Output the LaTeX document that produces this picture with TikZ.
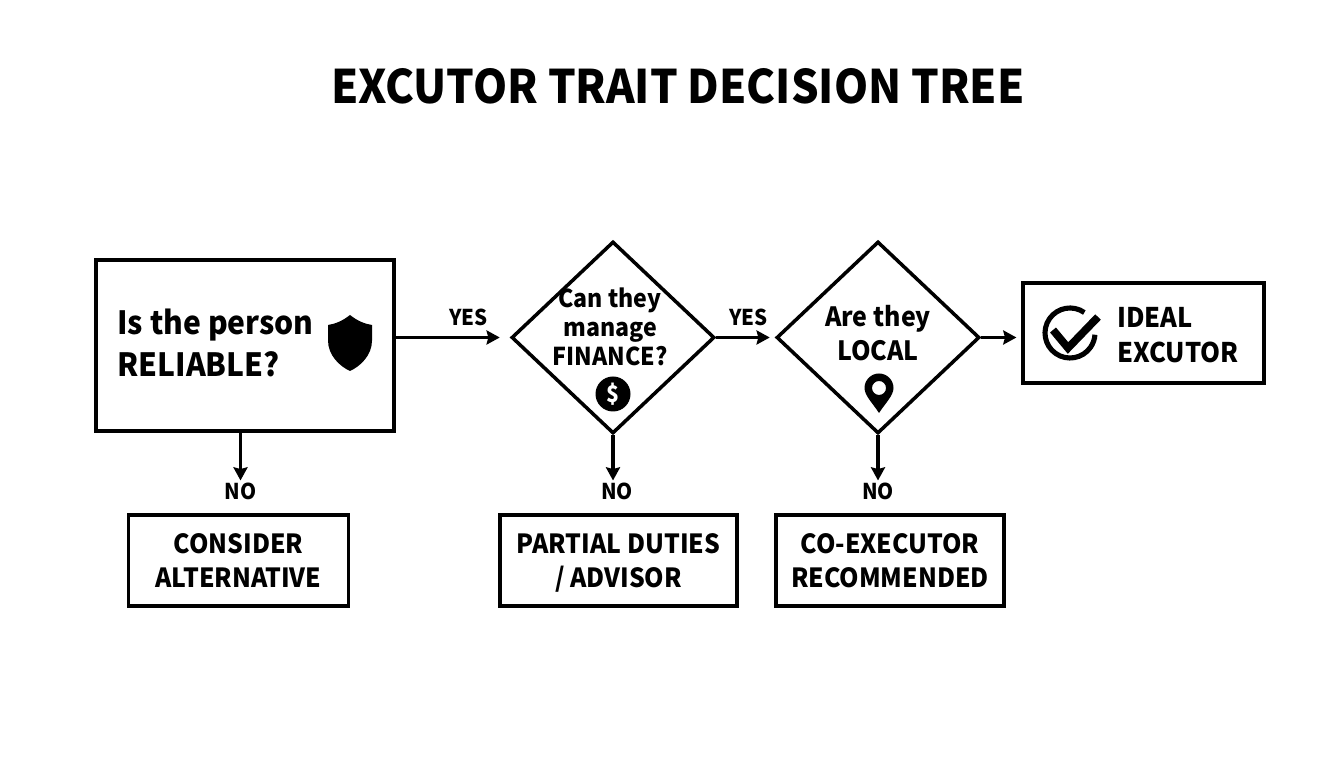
\documentclass[tikz,border=0pt]{standalone}
\usepackage{fontspec}
\setmainfont{Noto Sans CJK SC}[FakeStretch=0.94]
\usetikzlibrary{shapes.geometric,arrows.meta}

\tikzstyle{square} = [rectangle, minimum width=4.4cm, minimum height=1.82cm, align=center, line width=1.8pt, draw=black, inner sep=0pt, text depth=-2pt, font=\fontsize{15}{19}\selectfont\bfseries]
\tikzstyle{decision} = [diamond, minimum width=4.06cm, minimum height=3.84cm, line width=2pt, draw=black, inner sep=0pt]
\tikzstyle{question} = [align=center, inner sep=0pt, font=\fontsize{14}{16.5}\selectfont\bfseries]
\tikzstyle{answer} = [inner sep=1pt, font=\fontsize{12.4}{15}\selectfont\bfseries]
\tikzstyle{arrow} = [line width=1.8pt,->,>={Stealth[length=7.5pt,width=8pt,inset=1pt]}]

\begin{document}
\begin{tikzpicture}[node distance=5cm]
    \useasboundingbox (0,0) rectangle (26.88,15.36);
    \node (title) at (13.56,13.64) {\fontsize{26.3}{30}\selectfont\bfseries EXCUTOR TRAIT DECISION TREE};

    \node (reliable) [square, minimum width=5.96cm, minimum height=3.42cm] at (4.9,8.45) {};
    \node (finance) [decision, right of=reliable, xshift=2.36cm, yshift=0.16cm] {};
    \node (local) [decision, right of=finance, xshift=0.3cm] {};
    \node (ideal) [square, minimum width=4.82cm, minimum height=2cm, right of=local, xshift=0.31cm, yshift=0.09cm] {};

    \node (alternative) [square, below of=reliable, xshift=-0.13cm, yshift=0.7cm] {CONSIDER\\ALTERNATIVE};
    \node (partial) [square, minimum width=4.74cm, below of=finance, xshift=0.11cm, yshift=0.54cm] {PARTIAL DUTIES\\/ ADVISOR};
    \node (coexecutor) [square, minimum width=4.56cm, below of=local, xshift=0.24cm, yshift=0.54cm] {CO-EXECUTOR\\RECOMMENDED};

    % texts and icons inside the boxes
    \node (reliabletext) [question, anchor=west, align=left, font=\fontsize{18.2}{23.5}\selectfont\bfseries] at (2.34,8.5) {Is the person\\RELIABLE?};
    \node (financetext) [question] at (12.2,8.82) {Can they\\manage\\FINANCE?};
    \node (localtext) [question, font=\fontsize{15.1}{19}\selectfont\bfseries] at (17.56,8.7) {Are they\\LOCAL};
    \node (idealtext) [question, anchor=west, align=left, font=\fontsize{15.4}{20}\selectfont\bfseries] at (22.34,8.65) {IDEAL\\EXCUTOR};

    \fill (7,9.06) .. controls (6.85,8.94) and (6.7,8.88) .. (6.56,8.86) -- (6.56,8.55) .. controls (6.56,8.25) and (6.8,8.03) .. (7,7.94) .. controls (7.2,8.03) and (7.44,8.25) .. (7.44,8.55) -- (7.44,8.86) .. controls (7.3,8.88) and (7.15,8.94) .. (7,9.06) -- cycle;
    \node (dollar) [circle, fill=black, text=white, minimum size=0.7cm, inner sep=0pt, font=\fontsize{13}{13}\selectfont\bfseries] at (12.26,7.48) {\$};
    \fill [even odd rule] (17.58,7.1) .. controls (17.45,7.3) and (17.29,7.45) .. (17.29,7.6) arc (180:0:0.29) .. controls (17.87,7.45) and (17.71,7.3) .. (17.58,7.1) -- cycle (17.58,7.6) circle (0.14);
    \draw [line width=2.9pt] ([shift={(55:0.5)}]21.4,8.7) arc (55:356:0.5);
    \draw [line width=4.4pt] (21.06,8.76) -- (21.36,8.4) -- (21.96,9.02);

    % labels under the questions
    \node (noreliable) [answer, above of=alternative, node distance=1.39cm, xshift=0.04cm] {NO};
    \node (nofinance) [answer, above of=partial, node distance=1.39cm, xshift=-0.03cm] {NO};
    \node (nolocal) [answer, above of=coexecutor, node distance=1.39cm, xshift=-0.24cm] {NO};

    \draw [arrow] (reliable.east |- finance.west) -- node[answer, anchor=south, pos=0.7, yshift=0.16cm] (yesreliable) {YES} ([xshift=-0.2cm]finance.west);
    \draw [arrow] (finance.east) -- node[answer, anchor=south, pos=0.6, yshift=0.16cm] (yesfinance) {YES} ([xshift=-0.1cm]local.west);
    \draw [arrow] (local.east) -- ([xshift=-0.1cm]local.east -| ideal.west);
    \draw [arrow] (noreliable |- reliable.south) -- (noreliable);
    \draw [arrow] (finance.south) -- (finance.south |- nofinance.north);
    \draw [arrow] (local.south) -- (nolocal);

\end{tikzpicture}
\end{document}
